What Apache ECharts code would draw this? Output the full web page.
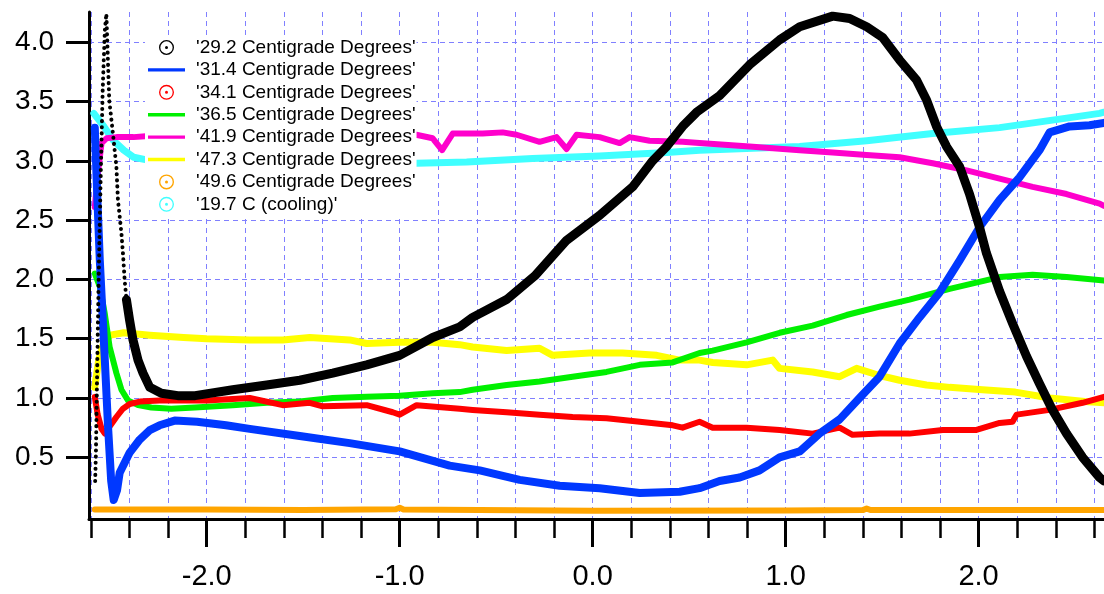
<!DOCTYPE html>
<html>
<head>
<meta charset="utf-8">
<title>Centigrade Degrees</title>
<script src="https://cdn.jsdelivr.net/npm/echarts@6.0.0/dist/echarts.min.js"></script>
<style>
  html, body { margin: 0; padding: 0; background: #ffffff; }
  #chart { width: 1104px; height: 594px; }
</style>
</head>
<body>
<div id="chart"></div>
<script>
// ---- series data ----
// '29.2 Centigrade Degrees' : sparse dots of the initial jump
const blackRiseX = [-2.578, -2.574, -2.568, -2.560, -2.549, -2.539, -2.528, -2.520, -2.505, -2.486, -2.468, -2.460, -2.442, -2.434, -2.425, -2.416];
const blackRiseY = [0.30, 0.55, 1.20, 2.00, 2.90, 3.60, 4.10, 4.24, 3.51, 3.23, 2.95, 2.67, 2.39, 2.22, 1.99, 1.83];
// '29.2 Centigrade Degrees' : dense band
const blackX = [-2.416, -2.400, -2.382, -2.356, -2.330, -2.295, -2.235, -2.150, -2.060, -1.865, -1.689, -1.518, -1.347, -1.171, -1.000, -0.829, -0.689, -0.622, -0.446, -0.300, -0.135, 0.036, 0.207, 0.311, 0.383, 0.466, 0.539, 0.658, 0.813, 0.969, 1.073, 1.244, 1.332, 1.420, 1.503, 1.591, 1.679, 1.731, 1.782, 1.834, 1.902, 1.953, 2.005, 2.041, 2.109, 2.176, 2.249, 2.316, 2.383, 2.456, 2.539, 2.627, 2.650];
const blackY = [1.83, 1.66, 1.49, 1.32, 1.21, 1.09, 1.04, 1.02, 1.02, 1.07, 1.11, 1.15, 1.21, 1.28, 1.36, 1.51, 1.60, 1.68, 1.83, 2.03, 2.33, 2.54, 2.78, 3.00, 3.12, 3.29, 3.41, 3.55, 3.81, 4.02, 4.13, 4.22, 4.20, 4.13, 4.04, 3.85, 3.68, 3.51, 3.29, 3.12, 2.95, 2.72, 2.44, 2.22, 1.90, 1.63, 1.35, 1.12, 0.90, 0.70, 0.50, 0.33, 0.30];

// '31.4 Centigrade Degrees'
const blueX = [-2.580, -2.567, -2.554, -2.528, -2.511, -2.495, -2.482, -2.465, -2.451, -2.399, -2.347, -2.295, -2.244, -2.166, -2.050, -1.900, -1.777, -1.518, -1.259, -1.000, -0.741, -0.585, -0.378, -0.171, 0.036, 0.244, 0.451, 0.554, 0.658, 0.762, 0.865, 0.969, 1.073, 1.176, 1.280, 1.383, 1.487, 1.591, 1.694, 1.798, 1.902, 2.005, 2.109, 2.212, 2.316, 2.368, 2.472, 2.575, 2.650];
const blueY = [3.28, 2.70, 2.16, 1.32, 0.75, 0.30, 0.14, 0.22, 0.37, 0.54, 0.65, 0.73, 0.77, 0.81, 0.80, 0.77, 0.74, 0.68, 0.62, 0.55, 0.43, 0.39, 0.31, 0.26, 0.24, 0.20, 0.21, 0.24, 0.30, 0.33, 0.39, 0.50, 0.55, 0.70, 0.82, 1.00, 1.18, 1.46, 1.68, 1.89, 2.16, 2.44, 2.67, 2.86, 3.09, 3.24, 3.29, 3.30, 3.32];

// '34.1 Centigrade Degrees'
const redX = [-2.580, -2.565, -2.545, -2.528, -2.503, -2.468, -2.434, -2.399, -2.347, -2.244, -2.000, -1.777, -1.606, -1.466, -1.399, -1.171, -1.036, -1.000, -0.912, -0.689, -0.622, -0.446, -0.275, -0.104, 0.072, 0.244, 0.415, 0.466, 0.554, 0.622, 0.798, 0.969, 1.140, 1.280, 1.347, 1.487, 1.642, 1.814, 1.985, 2.109, 2.176, 2.197, 2.368, 2.539, 2.650];
const redY = [1.01, 0.86, 0.74, 0.70, 0.76, 0.84, 0.91, 0.95, 0.97, 0.98, 0.98, 1.00, 0.94, 0.96, 0.93, 0.94, 0.88, 0.86, 0.94, 0.91, 0.90, 0.88, 0.86, 0.84, 0.83, 0.80, 0.77, 0.75, 0.80, 0.75, 0.75, 0.73, 0.70, 0.75, 0.69, 0.70, 0.70, 0.73, 0.73, 0.79, 0.80, 0.86, 0.90, 0.96, 1.01];

// '36.5 Centigrade Degrees'
const greenX = [-2.580, -2.554, -2.528, -2.503, -2.468, -2.442, -2.408, -2.356, -2.287, -2.184, -2.062, -1.865, -1.689, -1.518, -1.347, -1.171, -1.000, -0.829, -0.689, -0.622, -0.446, -0.275, -0.104, 0.072, 0.244, 0.415, 0.554, 0.622, 0.798, 0.969, 1.140, 1.316, 1.487, 1.642, 1.850, 2.109, 2.280, 2.456, 2.650];
const greenY = [2.05, 1.94, 1.71, 1.43, 1.21, 1.07, 0.98, 0.94, 0.92, 0.91, 0.92, 0.94, 0.96, 0.97, 1.00, 1.01, 1.02, 1.04, 1.05, 1.07, 1.11, 1.14, 1.18, 1.22, 1.28, 1.30, 1.38, 1.40, 1.47, 1.55, 1.61, 1.70, 1.77, 1.83, 1.92, 2.02, 2.04, 2.02, 1.99];

// '41.9 Centigrade Degrees'
const magentaX = [-2.580, -2.560, -2.545, -2.519, -2.467, -2.380, -2.300, -1.600, -0.914, -0.829, -0.780, -0.725, -0.570, -0.466, -0.394, -0.275, -0.187, -0.135, -0.083, 0.036, 0.140, 0.192, 0.295, 0.466, 0.554, 0.813, 1.073, 1.244, 1.420, 1.591, 1.762, 1.938, 2.109, 2.280, 2.456, 2.627, 2.650];
const magentaY = [2.61, 2.95, 3.15, 3.19, 3.20, 3.20, 3.21, 3.21, 3.22, 3.19, 3.09, 3.23, 3.23, 3.24, 3.22, 3.16, 3.20, 3.10, 3.22, 3.20, 3.15, 3.20, 3.17, 3.16, 3.15, 3.12, 3.09, 3.07, 3.05, 3.03, 2.98, 2.92, 2.85, 2.78, 2.72, 2.64, 2.62];

// '47.3 Centigrade Degrees'
const yellowX = [-2.580, -2.560, -2.535, -2.500, -2.430, -2.295, -2.120, -2.000, -1.777, -1.606, -1.466, -1.259, -1.171, -1.000, -0.829, -0.689, -0.622, -0.446, -0.275, -0.207, -0.016, 0.155, 0.332, 0.451, 0.554, 0.622, 0.798, 0.933, 0.969, 1.140, 1.280, 1.368, 1.487, 1.591, 1.730, 1.850, 2.020, 2.190, 2.370, 2.550, 2.650];
const yellowY = [1.09, 1.32, 1.46, 1.53, 1.55, 1.53, 1.51, 1.50, 1.49, 1.49, 1.51, 1.49, 1.46, 1.47, 1.47, 1.45, 1.43, 1.40, 1.42, 1.36, 1.38, 1.38, 1.36, 1.32, 1.32, 1.30, 1.28, 1.32, 1.25, 1.22, 1.18, 1.25, 1.19, 1.15, 1.11, 1.09, 1.07, 1.05, 1.00, 0.97, 0.96];

// '49.6 Centigrade Degrees'
const orangeX = [-2.580, -2.000, -1.500, -1.020, -1.000, -0.980, 0.000, 1.000, 1.400, 1.420, 1.440, 2.000, 2.650];
const orangeY = [0.060, 0.060, 0.055, 0.062, 0.075, 0.060, 0.050, 0.052, 0.055, 0.068, 0.056, 0.055, 0.055];

// '19.7 C (cooling)'
const cyanX = [-2.585, -2.533, -2.482, -2.430, -2.378, -2.318, -1.600, -0.912, -0.653, -0.311, 0.036, 0.383, 0.554, 1.073, 1.420, 1.762, 2.109, 2.456, 2.627, 2.650];
const cyanY = [3.40, 3.29, 3.17, 3.09, 3.03, 3.01, 2.99, 2.98, 2.99, 3.02, 3.04, 3.07, 3.09, 3.12, 3.17, 3.23, 3.28, 3.36, 3.40, 3.41];

// ---- series names and colours ----
const seriesNames = [
  "'29.2 Centigrade Degrees'",
  "'31.4 Centigrade Degrees'",
  "'34.1 Centigrade Degrees'",
  "'36.5 Centigrade Degrees'",
  "'41.9 Centigrade Degrees'",
  "'47.3 Centigrade Degrees'",
  "'49.6 Centigrade Degrees'",
  "'19.7 C (cooling)'"
];
const seriesColors = ['#000000', '#0038ff', '#ff0000', '#00f000', '#ff00cc', '#ffff00', '#ffa500', '#40ffff'];
const legendIconKinds = ['dot', 'line', 'dot', 'line', 'line', 'line', 'dot', 'dot'];

// ---- axis ticks ----
const xMinorTicks = [-2.6, -2.4, -2.2, -2.0, -1.8, -1.6, -1.4, -1.2, -1.0, -0.8, -0.6, -0.4, -0.2, 0.0, 0.2, 0.4, 0.6, 0.8, 1.0, 1.2, 1.4, 1.6, 1.8, 2.0, 2.2, 2.4, 2.6];
const xMajorTicks = [-2, -1, 0, 1, 2];
const xTickLabels = ['-2.0', '-1.0', '0.0', '1.0', '2.0'];
const yTicks = [0.5, 1.0, 1.5, 2.0, 2.5, 3.0, 3.5, 4.0];
const yTickLabels = ['0.5', '1.0', '1.5', '2.0', '2.5', '3.0', '3.5', '4.0'];

function pairs(xs, ys) {
  return xs.map(function (x, i) { return [x, ys[i]]; });
}

const FONT = 'Liberation Sans, Arial, Helvetica, sans-serif';
const GRID_LINE = { show: true, lineStyle: { color: '#8080ff', width: 1, type: [5, 4] } };

// legend glyphs: a ring with a centre dot, and a short thick stroke
const DOT_ICON = 'path://M0,10A10,10 0 1,0 20,10A10,10 0 1,0 0,10Z M1.8,10A8.2,8.2 0 1,1 18.2,10A8.2,8.2 0 1,1 1.8,10Z M8,10A2,2 0 1,0 12,10A2,2 0 1,0 8,10Z';
const LINE_ICON = 'path://M0,0H37V3.4H0Z';

function lineSeries(name, color, data, width, extra) {
  const s = {
    name: name,
    type: 'line',
    data: data,
    symbol: 'none',
    showSymbol: false,
    xAxisIndex: 0,
    yAxisIndex: 0,
    lineStyle: { color: color, width: width, join: 'round', cap: 'round' },
    itemStyle: { color: color },
    emphasis: { disabled: true },
    silent: true
  };
  return Object.assign(s, extra || {});
}

const chart = echarts.init(document.getElementById('chart'), null, { renderer: 'canvas' });

const option = {
  animation: false,
  backgroundColor: '#ffffff',
  textStyle: { fontFamily: FONT },
  grid: { left: 89, right: 0, top: 12, bottom: 75, containLabel: false },
  legend: {
    orient: 'vertical',
    left: 145,
    top: 35,
    padding: [3, 1, 3, 3],
    backgroundColor: '#ffffff',
    itemWidth: 37,
    itemHeight: 15,
    itemGap: 3.4,
    symbolKeepAspect: true,
    selectedMode: false,
    textStyle: { fontFamily: FONT, fontSize: 19, color: '#000000', lineHeight: 19, padding: [0, 0, 0, 6] },
    data: seriesNames.map(function (n, i) {
      return {
        name: n,
        icon: legendIconKinds[i] === 'dot' ? DOT_ICON : LINE_ICON,
        itemStyle: { color: seriesColors[i], borderWidth: 0 }
      };
    })
  },
  xAxis: [
    {
      type: 'value',
      position: 'bottom',
      min: -2.61,
      max: 2.65,
      axisLine: { show: true, onZero: false, lineStyle: { color: '#000000', width: 3 } },
      axisTick: { show: true, customValues: xMinorTicks, length: 19, lineStyle: { color: '#000000', width: 2.5 } },
      axisLabel: { show: false },
      splitLine: GRID_LINE
    },
    {
      type: 'value',
      position: 'bottom',
      min: -2.61,
      max: 2.65,
      axisLine: { show: false, onZero: false },
      axisTick: { show: true, customValues: xMajorTicks, length: 28, lineStyle: { color: '#000000', width: 3 } },
      axisLabel: {
        show: true,
        customValues: xMajorTicks,
        margin: 43,
        fontFamily: FONT,
        fontSize: 29,
        color: '#000000',
        formatter: function (v) {
          const i = xMajorTicks.indexOf(Math.round(v));
          return i >= 0 ? xTickLabels[i] : '';
        }
      },
      splitLine: { show: false }
    }
  ],
  yAxis: {
    type: 'value',
    min: -0.02,
    max: 4.255,
    axisLine: { show: true, onZero: false, lineStyle: { color: '#000000', width: 3 } },
    axisTick: { show: true, customValues: yTicks, length: 23, lineStyle: { color: '#000000', width: 3 } },
    axisLabel: {
      show: true,
      customValues: yTicks,
      margin: 35,
      fontFamily: FONT,
      fontSize: 28,
      color: '#000000',
      formatter: function (v) {
        const i = yTicks.indexOf(Math.round(v * 2) / 2);
        return i >= 0 ? yTickLabels[i] : '';
      }
    },
    splitLine: GRID_LINE
  },
  series: [
    lineSeries(seriesNames[6], seriesColors[6], pairs(orangeX, orangeY), 6),
    lineSeries(seriesNames[7], seriesColors[7], pairs(cyanX, cyanY), 7),
    lineSeries(seriesNames[4], seriesColors[4], pairs(magentaX, magentaY), 6),
    lineSeries(seriesNames[5], seriesColors[5], pairs(yellowX, yellowY), 7),
    lineSeries(seriesNames[3], seriesColors[3], pairs(greenX, greenY), 6),
    lineSeries(seriesNames[2], seriesColors[2], pairs(redX, redY), 6),
    lineSeries(seriesNames[1], seriesColors[1], pairs(blueX, blueY), 8),
    lineSeries(seriesNames[0], seriesColors[0], pairs(blackRiseX, blackRiseY), 4, {
      lineStyle: { color: seriesColors[0], width: 4, type: [0.1, 6], cap: 'round' }
    }),
    lineSeries(seriesNames[0], seriesColors[0], pairs(blackX, blackY), 9)
  ]
};

chart.setOption(option);
</script>
</body>
</html>
